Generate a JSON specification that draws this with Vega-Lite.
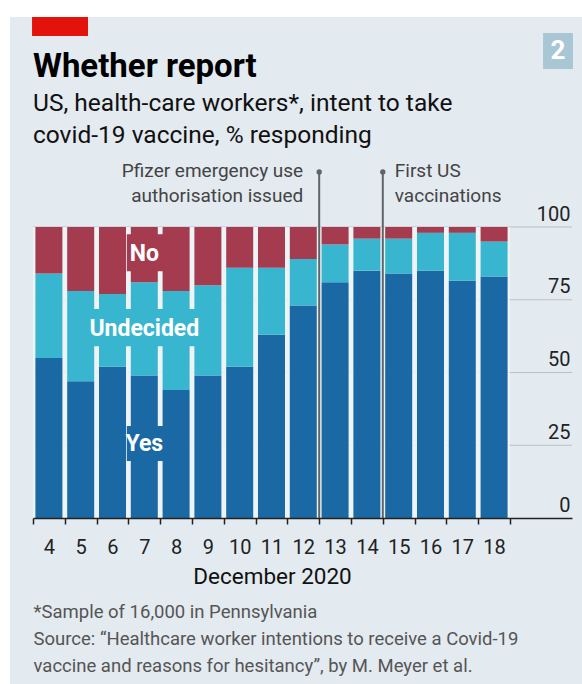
{
  "$schema": "https://vega.github.io/schema/vega-lite/v6.json",
  "width": 539,
  "height": 291,
  "autosize": "none",
  "padding": {"left": 33, "top": 227, "right": 10, "bottom": 166},
  "background": "#ffffff",
  "config": {"view": {"stroke": null}, "font": "Roboto"},
  "title": {
    "text": "Whether report",
    "subtitle": ["US, health-care workers*, intent to take", "covid-19 vaccine, % responding"],
    "anchor": "start",
    "frame": "group",
    "offset": -131,
    "fontSize": 33,
    "font": "Roboto",
    "fontWeight": "bold",
    "color": "#000000",
    "subtitleFont": "Roboto",
    "subtitleFontSize": 24.5,
    "subtitleColor": "#111111",
    "subtitlePadding": 8,
    "subtitleLineHeight": 32
  },
  "data": {"values": [
    {"date": 4, "response": "Yes", "pct": 55}, {"date": 4, "response": "Undecided", "pct": 29}, {"date": 4, "response": "No", "pct": 16},
    {"date": 5, "response": "Yes", "pct": 47}, {"date": 5, "response": "Undecided", "pct": 31}, {"date": 5, "response": "No", "pct": 22},
    {"date": 6, "response": "Yes", "pct": 52}, {"date": 6, "response": "Undecided", "pct": 25}, {"date": 6, "response": "No", "pct": 23},
    {"date": 7, "response": "Yes", "pct": 49}, {"date": 7, "response": "Undecided", "pct": 32}, {"date": 7, "response": "No", "pct": 19},
    {"date": 8, "response": "Yes", "pct": 44}, {"date": 8, "response": "Undecided", "pct": 34}, {"date": 8, "response": "No", "pct": 22},
    {"date": 9, "response": "Yes", "pct": 49}, {"date": 9, "response": "Undecided", "pct": 31}, {"date": 9, "response": "No", "pct": 20},
    {"date": 10, "response": "Yes", "pct": 52}, {"date": 10, "response": "Undecided", "pct": 34}, {"date": 10, "response": "No", "pct": 14},
    {"date": 11, "response": "Yes", "pct": 63}, {"date": 11, "response": "Undecided", "pct": 23}, {"date": 11, "response": "No", "pct": 14},
    {"date": 12, "response": "Yes", "pct": 73}, {"date": 12, "response": "Undecided", "pct": 16}, {"date": 12, "response": "No", "pct": 11},
    {"date": 13, "response": "Yes", "pct": 81}, {"date": 13, "response": "Undecided", "pct": 13}, {"date": 13, "response": "No", "pct": 6},
    {"date": 14, "response": "Yes", "pct": 85}, {"date": 14, "response": "Undecided", "pct": 11}, {"date": 14, "response": "No", "pct": 4},
    {"date": 15, "response": "Yes", "pct": 84}, {"date": 15, "response": "Undecided", "pct": 12}, {"date": 15, "response": "No", "pct": 4},
    {"date": 16, "response": "Yes", "pct": 85}, {"date": 16, "response": "Undecided", "pct": 13}, {"date": 16, "response": "No", "pct": 2},
    {"date": 17, "response": "Yes", "pct": 81.5}, {"date": 17, "response": "Undecided", "pct": 16.5}, {"date": 17, "response": "No", "pct": 2},
    {"date": 18, "response": "Yes", "pct": 83}, {"date": 18, "response": "Undecided", "pct": 12}, {"date": 18, "response": "No", "pct": 5}
  ]},
  "resolve": {"axis": {"x": "independent", "y": "independent"}},
  "layer": [
    {
      "data": {"values": [{}]},
      "mark": {"type": "rect", "fill": "#e3eaf0"},
      "encoding": {
        "x": {"datum": 2.777, "type": "quantitative",
          "scale": {"domain": [3.5, 20.45], "nice": false, "zero": false, "padding": 0}, "axis": null},
        "x2": {"datum": 21.5},
        "y": {"datum": 172.2, "type": "quantitative", "scale": {"domain": [0, 100], "nice": false, "padding": 0}, "axis": null},
        "y2": {"datum": -60}
      }
    },
    {
      "data": {"values": [{"level": 25}, {"level": 50}, {"level": 75}, {"level": 100}]},
      "mark": {"type": "rule", "color": "#b7c1c8", "strokeWidth": 1},
      "encoding": {
        "x": {"datum": 3.5, "type": "quantitative", "axis": null},
        "x2": {"datum": 20.45},
        "y": {"field": "level", "type": "quantitative", "axis": null}
      }
    },
    {
      "data": {"values": [{}]},
      "mark": {"type": "rect", "fill": "#f0f4f7", "opacity": 0.85},
      "encoding": {
        "x": {"datum": 3.5, "type": "quantitative",
          "axis": {
            "orient": "bottom", "zindex": 1,
            "values": [3.5, 4.5, 5.5, 6.5, 7.5, 8.5, 9.5, 10.5, 11.5, 12.5, 13.5, 14.5, 15.5, 16.5, 17.5, 18.5],
            "labels": false, "ticks": true, "tickSize": 6, "tickColor": "#222222", "tickWidth": 1.5,
            "domain": false, "grid": false,
            "title": ["*Sample of 16,000 in Pennsylvania", "Source: \u201cHealthcare worker intentions to receive a Covid-19", "vaccine and reasons for hesitancy\u201d, by M. Meyer et al."],
            "titleAnchor": "start", "titleAlign": "left", "titleFontSize": 18.5, "titleFontWeight": "normal",
            "titleColor": "#555555", "titleLineHeight": 27, "titlePadding": 78, "titleFont": "Roboto"
          }},
        "x2": {"datum": 18.5},
        "y": {"datum": 0, "type": "quantitative", "axis": null},
        "y2": {"datum": 100}
      }
    },
    {
      "mark": {"type": "bar", "size": 27},
      "encoding": {
        "x": {"field": "date", "type": "quantitative",
          "axis": {
            "orient": "bottom", "zindex": 1,
            "values": [4, 5, 6, 7, 8, 9, 10, 11, 12, 13, 14, 15, 16, 17, 18],
            "format": "d", "ticks": false, "domain": true, "domainColor": "#222222", "domainWidth": 1.5,
            "labelFontSize": 20, "labelColor": "#222222", "labelPadding": 19, "labelFlush": false, "labelOverlap": false,
            "grid": false, "title": "December 2020", "titleFontSize": 22.5, "titleFontWeight": "normal",
            "titleColor": "#111111", "titlePadding": 8, "titleFont": "Roboto", "titleX": 239, "titleAnchor": "middle"
          }},
        "y": {"field": "pct", "type": "quantitative", "stack": "zero",
          "axis": {
            "orient": "right", "zindex": 1, "values": [0, 25, 50, 75, 100], "grid": false,
            "domain": false, "ticks": false, "tickSize": 0, "labelPadding": -2, "labelAlign": "right",
            "labelBaseline": "bottom", "labelOffset": -3, "labelFontSize": 20, "labelColor": "#222222", "title": null
          }},
        "color": {"field": "response", "type": "nominal",
          "scale": {"domain": ["Yes", "Undecided", "No"], "range": ["#1b69a4", "#38b6d0", "#a53b4e"]},
          "legend": null},
        "order": {"field": "response", "sort": "descending"}
      }
    },
    {
      "data": {"values": [{}]},
      "mark": {"type": "rect", "fill": "#a53b4e"},
      "encoding": {
        "x": {"datum": 6.45, "type": "quantitative", "axis": null}, "x2": {"datum": 7.6},
        "y": {"datum": 84.8, "type": "quantitative", "axis": null}, "y2": {"datum": 97.5}
      }
    },
    {
      "data": {"values": [{}]},
      "mark": {"type": "rect", "fill": "#38b6d0"},
      "encoding": {
        "x": {"datum": 5.4, "type": "quantitative", "axis": null}, "x2": {"datum": 8.65},
        "y": {"datum": 59, "type": "quantitative", "axis": null}, "y2": {"datum": 71.8}
      }
    },
    {
      "data": {"values": [{}]},
      "mark": {"type": "rect", "fill": "#1b69a4"},
      "encoding": {
        "x": {"datum": 6.45, "type": "quantitative", "axis": null}, "x2": {"datum": 7.6},
        "y": {"datum": 19.6, "type": "quantitative", "axis": null}, "y2": {"datum": 31.6}
      }
    },
    {
      "data": {"values": [{}]},
      "mark": {"type": "text", "text": "No", "color": "#ffffff", "fontSize": 23, "fontWeight": "bold", "align": "center", "baseline": "middle"},
      "encoding": {
        "x": {"datum": 7, "type": "quantitative", "axis": null},
        "y": {"datum": 90.7, "type": "quantitative", "axis": null}
      }
    },
    {
      "data": {"values": [{}]},
      "mark": {"type": "text", "text": "Undecided", "color": "#ffffff", "fontSize": 23, "fontWeight": "bold", "align": "center", "baseline": "middle"},
      "encoding": {
        "x": {"datum": 7, "type": "quantitative", "axis": null},
        "y": {"datum": 65, "type": "quantitative", "axis": null}
      }
    },
    {
      "data": {"values": [{}]},
      "mark": {"type": "text", "text": "Yes", "color": "#ffffff", "fontSize": 23, "fontWeight": "bold", "align": "center", "baseline": "middle"},
      "encoding": {
        "x": {"datum": 7, "type": "quantitative", "axis": null},
        "y": {"datum": 25.4, "type": "quantitative", "axis": null}
      }
    },
    {
      "data": {"values": [{"at": 12.5}, {"at": 14.5}]},
      "mark": {"type": "rule", "color": "#5f6468", "strokeWidth": 2},
      "encoding": {
        "x": {"field": "at", "type": "quantitative", "axis": null},
        "y": {"datum": 0, "type": "quantitative", "axis": null},
        "y2": {"datum": 118.9}
      }
    },
    {
      "data": {"values": [{"at": 12.5}, {"at": 14.5}]},
      "mark": {"type": "point", "shape": "circle", "filled": true, "size": 28, "color": "#5f6468", "opacity": 1},
      "encoding": {
        "x": {"field": "at", "type": "quantitative", "axis": null},
        "y": {"datum": 118.9, "type": "quantitative", "axis": null}
      }
    },
    {
      "data": {"values": [{}]},
      "mark": {"type": "text", "text": ["Pfizer emergency use", "authorisation issued"], "color": "#444444", "fontSize": 19, "align": "right", "baseline": "top", "lineHeight": 25, "dx": -16},
      "encoding": {
        "x": {"datum": 12.5, "type": "quantitative", "axis": null},
        "y": {"datum": 122.3, "type": "quantitative", "axis": null}
      }
    },
    {
      "data": {"values": [{}]},
      "mark": {"type": "text", "text": ["First US", "vaccinations"], "color": "#444444", "fontSize": 19, "align": "left", "baseline": "top", "lineHeight": 25, "dx": 12},
      "encoding": {
        "x": {"datum": 14.5, "type": "quantitative", "axis": null},
        "y": {"datum": 122.3, "type": "quantitative", "axis": null}
      }
    },
    {
      "data": {"values": [{}]},
      "mark": {"type": "rect", "fill": "#e3120b"},
      "encoding": {
        "x": {"datum": 3.47, "type": "quantitative", "axis": null}, "x2": {"datum": 5.23},
        "y": {"datum": 172.2, "type": "quantitative", "axis": null}, "y2": {"datum": 165.6}
      }
    },
    {
      "data": {"values": [{}]},
      "mark": {"type": "rect", "fill": "#a9c6d5"},
      "encoding": {
        "x": {"datum": 19.54, "type": "quantitative", "axis": null}, "x2": {"datum": 20.48},
        "y": {"datum": 166.7, "type": "quantitative", "axis": null}, "y2": {"datum": 154.3}
      }
    },
    {
      "data": {"values": [{}]},
      "mark": {"type": "text", "text": "2", "color": "#ffffff", "fontSize": 26, "fontWeight": "bold", "align": "center", "baseline": "middle"},
      "encoding": {
        "x": {"datum": 20.01, "type": "quantitative", "axis": null},
        "y": {"datum": 160.5, "type": "quantitative", "axis": null}
      }
    }
  ]
}
